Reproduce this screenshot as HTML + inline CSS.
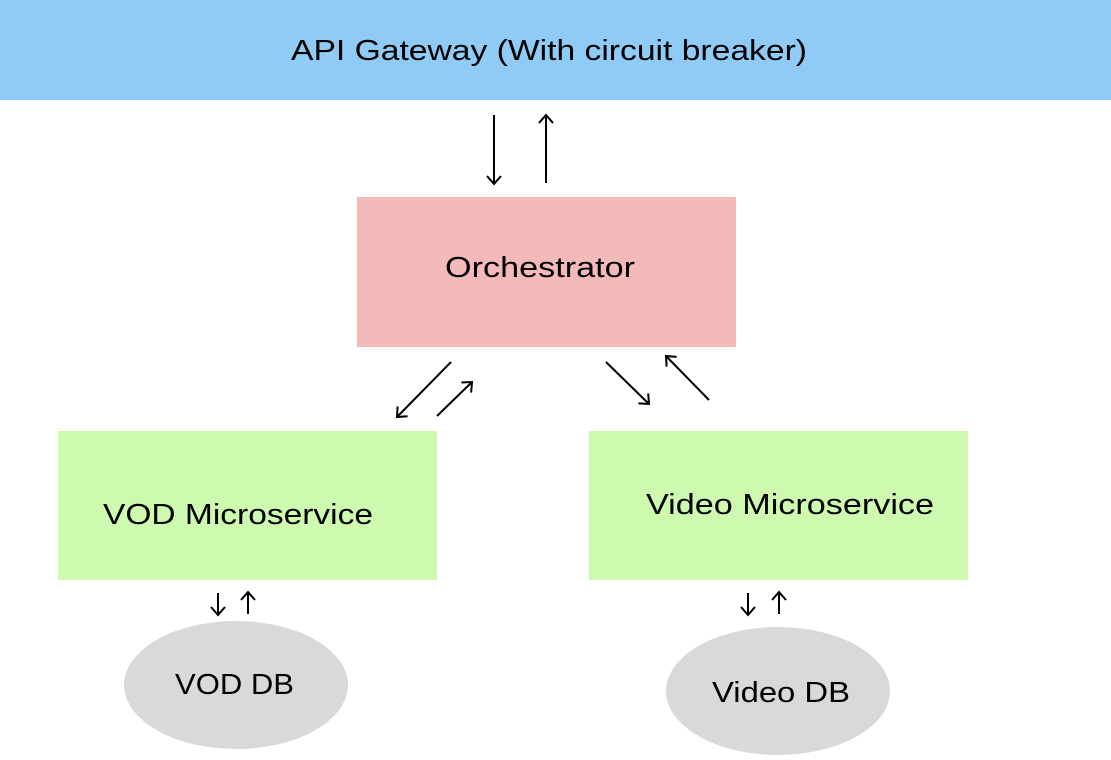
<!DOCTYPE html>
<html><head><style>
body{margin:0;width:1111px;height:760px;background:#fff;overflow:hidden;position:relative;font-family:"Liberation Sans",sans-serif;}
svg{position:absolute;left:0;top:0}
</style></head><body>
<svg width="1111" height="760" viewBox="0 0 1111 760">
<defs><marker id="a" markerWidth="14" markerHeight="16" refX="9" refY="8" orient="auto" markerUnits="userSpaceOnUse"><path d="M1,1 L9,8 L1,15" fill="none" stroke="#000" stroke-width="2"/></marker></defs>
<rect x="0" y="0" width="1111" height="100" fill="#90cbf5"/>
<text x="291" y="60" font-size="29" textLength="516" lengthAdjust="spacingAndGlyphs">API Gateway (With circuit breaker)</text>
<rect x="357" y="197" width="379" height="150" fill="#f4baba"/>
<text x="445" y="277" font-size="29" textLength="190" lengthAdjust="spacingAndGlyphs">Orchestrator</text>
<rect x="58" y="431" width="379" height="149" fill="#cefab0"/>
<text x="103" y="524" font-size="29" textLength="270" lengthAdjust="spacingAndGlyphs">VOD Microservice</text>
<rect x="589" y="431" width="379" height="149" fill="#cefab0"/>
<text x="646" y="514" font-size="29" textLength="288" lengthAdjust="spacingAndGlyphs">Video Microservice</text>
<ellipse cx="236" cy="685" rx="112" ry="64" fill="#d9d9d9"/>
<text x="175" y="694" font-size="29" textLength="119" lengthAdjust="spacingAndGlyphs">VOD DB</text>
<ellipse cx="778" cy="691" rx="112" ry="64" fill="#d9d9d9"/>
<text x="712" y="702" font-size="29" textLength="138" lengthAdjust="spacingAndGlyphs">Video DB</text>
<g stroke="#000" stroke-width="2" marker-end="url(#a)">
<line x1="494" y1="115" x2="494" y2="184"/>
<line x1="546" y1="183" x2="546" y2="115"/>
<line x1="451" y1="362" x2="397" y2="417"/>
<line x1="437" y1="416" x2="472" y2="382"/>
<line x1="606" y1="362" x2="649" y2="404"/>
<line x1="709" y1="400" x2="666" y2="356"/>
<line x1="218" y1="593" x2="218" y2="615"/>
<line x1="248" y1="614" x2="248" y2="592"/>
<line x1="748" y1="593" x2="748" y2="615"/>
<line x1="779" y1="614" x2="779" y2="592"/>
</g>
</svg>
</body></html>
